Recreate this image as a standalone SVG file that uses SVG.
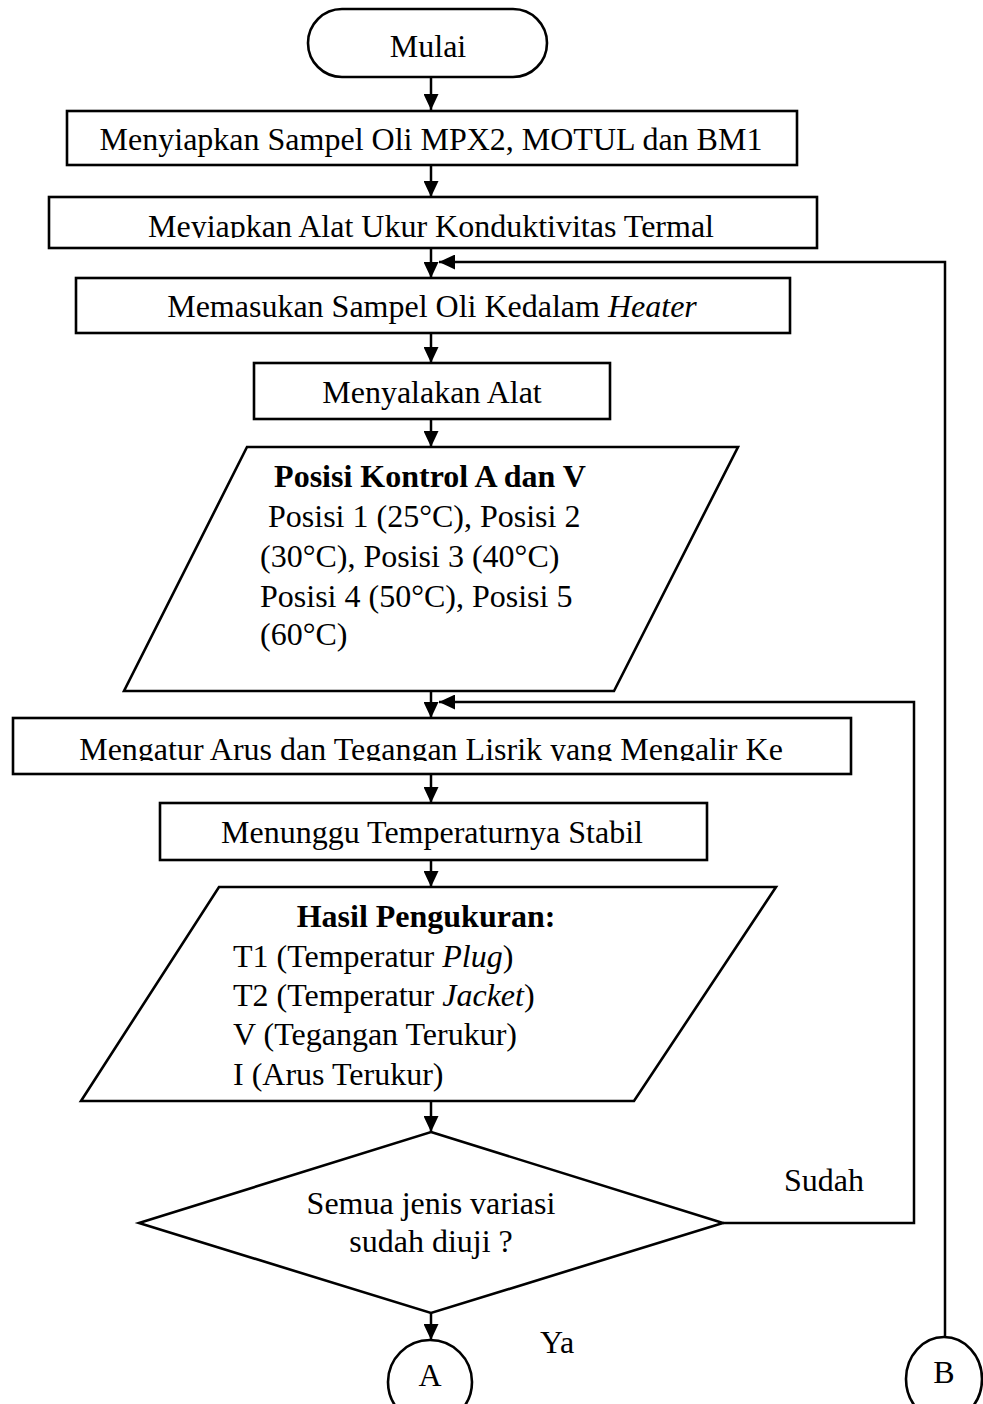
<svg xmlns="http://www.w3.org/2000/svg" width="983" height="1404" viewBox="0 0 983 1404">
  <style>
    .shape { fill: #ffffff; stroke: #000000; stroke-width: 2.6; }
    .conn { fill: none; stroke: #000000; stroke-width: 2.5; }
    text { font-family: "Liberation Serif", "Times New Roman", serif; font-size: 32px; fill: #000000; }
    .mid { text-anchor: middle; }
    .bold { font-weight: bold; }
    .it { font-style: italic; }
  </style>
  <defs>
    <marker id="arrow" viewBox="0 0 16 15" refX="16" refY="7.5" markerWidth="16" markerHeight="15" markerUnits="userSpaceOnUse" orient="auto">
      <path d="M0,0 L16,7.5 L0,15 Z" fill="#000000"/>
    </marker>
    <clipPath id="clip-alat">
      <rect x="49" y="197" width="768" height="41"/>
    </clipPath>
    <clipPath id="clip-arus">
      <rect x="13" y="718" width="838" height="43"/>
    </clipPath>
  </defs>

  <rect width="983" height="1404" fill="#ffffff"/>

  <!-- connectors -->
  <g id="connectors">
    <path class="conn" d="M431,77 V110" marker-end="url(#arrow)"/>
    <path class="conn" d="M431,166 V197" marker-end="url(#arrow)"/>
    <path class="conn" d="M431,248 V278" marker-end="url(#arrow)"/>
    <path class="conn" d="M431,333 V363" marker-end="url(#arrow)"/>
    <path class="conn" d="M431,419 V447" marker-end="url(#arrow)"/>
    <path class="conn" d="M431,691 V718" marker-end="url(#arrow)"/>
    <path class="conn" d="M431,774 V803" marker-end="url(#arrow)"/>
    <path class="conn" d="M431,860 V887" marker-end="url(#arrow)"/>
    <path class="conn" d="M431,1101 V1132" marker-end="url(#arrow)"/>
    <path class="conn" d="M431,1313 V1340" marker-end="url(#arrow)"/>
    <!-- return loop from connector B -->
    <path class="conn" d="M945,1337 V262 H439" marker-end="url(#arrow)"/>
    <!-- "Sudah" branch back to current setting step -->
    <path class="conn" d="M723,1223 H914 V702 H439" marker-end="url(#arrow)"/>
    <text x="784" y="1191">Sudah</text>
    <text x="540" y="1353">Ya</text>
  </g>

  <g id="mulai">
    <rect class="shape" x="308" y="9" width="239" height="68" rx="34" ry="34"/>
    <text class="mid" x="428" y="57">Mulai</text>
  </g>

  <g id="sampel">
    <rect class="shape" x="67" y="111" width="730" height="54"/>
    <text class="mid" x="431" y="150">Menyiapkan Sampel Oli MPX2, MOTUL dan BM1</text>
  </g>

  <g id="alat-ukur">
    <rect class="shape" x="49" y="197" width="768" height="51"/>
    <text class="mid" x="431" y="237" clip-path="url(#clip-alat)">Meyiapkan Alat Ukur Konduktivitas Termal</text>
  </g>

  <g id="heater">
    <rect class="shape" x="76" y="278" width="714" height="55"/>
    <text class="mid" x="432" y="317">Memasukan Sampel Oli Kedalam <tspan class="it">Heater</tspan></text>
  </g>

  <g id="nyalakan">
    <rect class="shape" x="254" y="363" width="356" height="56"/>
    <text class="mid" x="432" y="403">Menyalakan Alat</text>
  </g>

  <g id="posisi-kontrol">
    <polygon class="shape" points="247,447 738,447 614,691 124,691"/>
    <text class="mid bold" x="430" y="487">Posisi Kontrol A dan V</text>
    <text x="268" y="527">Posisi 1 (25°C), Posisi 2</text>
    <text x="260" y="567">(30°C), Posisi 3 (40°C)</text>
    <text x="260" y="607">Posisi 4 (50°C), Posisi 5</text>
    <text x="260" y="645">(60°C)</text>
  </g>

  <g id="atur-arus">
    <rect class="shape" x="13" y="718" width="838" height="56"/>
    <text class="mid" x="431" y="760" clip-path="url(#clip-arus)">Mengatur Arus dan Tegangan Lisrik yang Mengalir Ke</text>
  </g>

  <g id="tunggu">
    <rect class="shape" x="160" y="803" width="547" height="57"/>
    <text class="mid" x="432" y="843">Menunggu Temperaturnya Stabil</text>
  </g>

  <g id="hasil">
    <polygon class="shape" points="219,887 776,887 634,1101 81,1101"/>
    <text class="mid bold" x="426" y="927">Hasil Pengukuran:</text>
    <text x="233" y="967">T1 (Temperatur <tspan class="it">Plug</tspan>)</text>
    <text x="233" y="1006">T2 (Temperatur <tspan class="it">Jacket</tspan>)</text>
    <text x="233" y="1045">V (Tegangan Terukur)</text>
    <text x="233" y="1085">I (Arus Terukur)</text>
  </g>

  <g id="keputusan">
    <polygon class="shape" points="431,1132 723,1223 431,1313 139,1223"/>
    <text class="mid" x="431" y="1214">Semua jenis variasi</text>
    <text class="mid" x="431" y="1252">sudah diuji ?</text>
  </g>

  <g id="konektor-a">
    <ellipse class="shape" cx="430" cy="1382" rx="42" ry="42"/>
    <text class="mid" x="430" y="1386">A</text>
  </g>

  <g id="konektor-b">
    <ellipse class="shape" cx="944" cy="1379" rx="38" ry="42"/>
    <text class="mid" x="944" y="1383">B</text>
  </g>
</svg>
